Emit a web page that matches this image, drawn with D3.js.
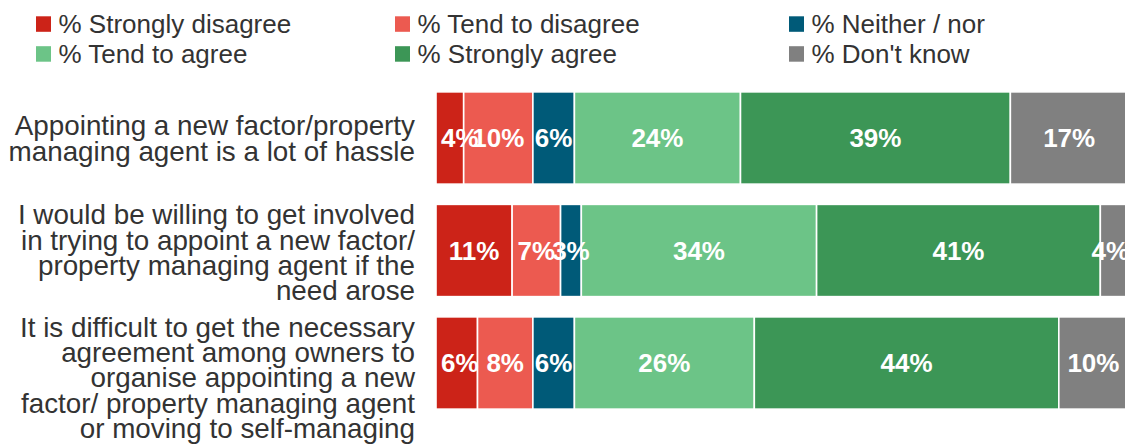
<!DOCTYPE html>
<html>
<head>
<meta charset="utf-8">
<script src="https://cdn.jsdelivr.net/npm/d3@7"></script>
<style>
  html, body { margin: 0; padding: 0; background: #fff; overflow: hidden; }
  svg { display: block; }
</style>
</head>
<body>
<svg id="chart" width="1125" height="448"></svg>
<script>
// Statements (line breaks as they wrap on the axis)
const categories = [
  "Appointing a new factor/property\nmanaging agent is a lot of hassle",
  "I would be willing to get involved\nin trying to appoint a new factor/\nproperty managing agent if the\nneed arose",
  "It is difficult to get the necessary\nagreement among owners to\norganise appointing a new\nfactor/ property managing agent\nor moving to self-managing"
];

const seriesNames = [
  "% Strongly disagree",
  "% Tend to disagree",
  "% Neither / nor",
  "% Tend to agree",
  "% Strongly agree",
  "% Don't know"
];

// Percentages per statement
const stronglyDisagree = [4, 11, 6];
const tendToDisagree   = [10, 7, 8];
const neitherNor       = [6, 3, 6];
const tendToAgree      = [24, 34, 26];
const stronglyAgree    = [39, 41, 44];
const dontKnow         = [17, 4, 10];

const seriesColors = ["#cc2318", "#ec5a50", "#005a78", "#6cc487", "#3c9656", "#808080"];

const seriesValues = [stronglyDisagree, tendToDisagree, neitherNor, tendToAgree, stronglyAgree, dontKnow];
const rows = categories.map((c, i) => {
  const r = { category: c };
  seriesNames.forEach((s, k) => { r[s] = seriesValues[k][i]; });
  return r;
});

const svg = d3.select("#chart");
const font = "'Liberation Sans', Arial, sans-serif";
const textColor = "#333333";

// Scales
const x = d3.scaleLinear().domain([0, 100]).range([436, 1128]);
const y = d3.scaleBand()
  .domain(categories)
  .range([81.75, 419.25])
  .paddingInner(0.18)
  .paddingOuter(0.09);

const stacked = d3.stack().keys(seriesNames)(rows);

// Bars
svg.append("g").selectAll("g")
  .data(stacked)
  .join("g")
  .attr("fill", (d, i) => seriesColors[i])
  .selectAll("rect")
  .data(d => d)
  .join("rect")
  .attr("x", d => x(d[0]))
  .attr("y", d => y(d.data.category))
  .attr("width", d => x(d[1]) - x(d[0]))
  .attr("height", y.bandwidth())
  .attr("stroke", "#ffffff")
  .attr("stroke-width", 1.6);

// Value labels drawn above all bars, centred in their segment but kept inside the plot area
const labelLeftLimit = x(0) + 5, labelRightLimit = x(100) + 1;
const segments = stacked.flatMap(layer => layer.map(v => ({ v, key: layer.key })));
svg.append("g").selectAll("text")
  .data(segments)
  .join("text")
  .attr("y", d => y(d.v.data.category) + y.bandwidth() / 2)
  .attr("dy", "0.36em")
  .attr("text-anchor", "middle")
  .attr("fill", "#ffffff")
  .attr("font-family", font)
  .attr("font-weight", "bold")
  .attr("font-size", 26)
  .text(d => Math.round(d.v[1] - d.v[0]) + "%")
  .attr("x", function(d) {
    const w = this.getComputedTextLength();
    let cx = (x(d.v[0]) + x(d.v[1])) / 2;
    if (cx - w / 2 < labelLeftLimit) cx = labelLeftLimit + w / 2;
    if (cx + w / 2 > labelRightLimit) cx = labelRightLimit - w / 2;
    return cx;
  });

// Category labels, right aligned; block centred on the bar unless taller than it
const labelSize = 27.8, lineH = 25.3, capH = labelSize * 0.716;
const catG = svg.append("g");
categories.forEach(c => {
  const lines = c.split("\n");
  const visH = capH + (lines.length - 1) * lineH;
  const center = y(c) + y.bandwidth() / 2;
  const top = Math.max(center - visH / 2, y(c));
  const t = catG.append("text")
    .attr("text-anchor", "end")
    .attr("fill", textColor)
    .attr("font-family", font)
    .attr("font-size", labelSize);
  lines.forEach((ln, i) => {
    t.append("tspan")
      .attr("x", 415)
      .attr("y", top + capH + i * lineH)
      .text(ln);
  });
});

// Legend: three columns, two rows
const legendCols = [36, 395, 789];
const legendRows = [33.3, 63.2];
const lg = svg.append("g").selectAll("g")
  .data(seriesNames)
  .join("g")
  .attr("transform", (d, i) => `translate(${legendCols[i % 3]},${legendRows[Math.floor(i / 3)]})`);

lg.append("rect")
  .attr("x", 0)
  .attr("y", -17)
  .attr("width", 15)
  .attr("height", 15.5)
  .attr("fill", (d, i) => seriesColors[i]);

lg.append("text")
  .attr("x", 22.5)
  .attr("y", 0)
  .attr("fill", textColor)
  .attr("font-family", font)
  .attr("font-size", 26)
  .text(d => d);
</script>
</body>
</html>
